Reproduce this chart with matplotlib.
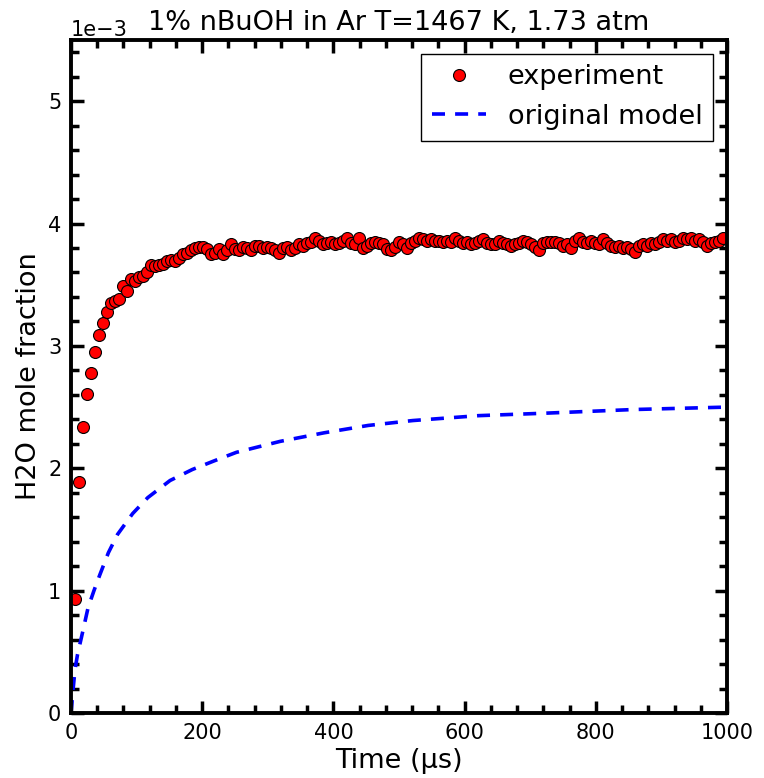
import numpy as np
import matplotlib
matplotlib.use('Agg')
import matplotlib.pyplot as plt

# experiment: H2O mole fraction (x1e-3), sampled every ~6.1 us
exp_dt = 6.1
exp_h2o = [
    0.93, 1.89, 2.34, 2.61, 2.78, 2.95, 3.09, 3.19, 3.28, 3.35,
    3.37, 3.38, 3.49, 3.45, 3.55, 3.53, 3.56, 3.57, 3.60, 3.66,
    3.65, 3.66, 3.67, 3.69, 3.70, 3.69, 3.72, 3.75, 3.76, 3.78,
    3.80, 3.81, 3.81,
    3.79, 3.75, 3.76, 3.79, 3.75, 3.78, 3.83, 3.79, 3.78, 3.81,
    3.80, 3.78, 3.82, 3.82, 3.80, 3.81, 3.80, 3.78, 3.76, 3.80,
    3.81, 3.78, 3.80, 3.83, 3.82, 3.84, 3.85, 3.88, 3.86, 3.83,
    3.84, 3.85, 3.83, 3.84, 3.86, 3.88, 3.84, 3.83, 3.88, 3.80,
    3.82, 3.84, 3.85, 3.84, 3.83, 3.79, 3.78, 3.81, 3.85, 3.83,
    3.80, 3.84, 3.86, 3.88, 3.87, 3.86, 3.87, 3.86, 3.86, 3.85,
    3.86, 3.85, 3.88, 3.86, 3.84, 3.85, 3.83, 3.84, 3.86, 3.87,
    3.84, 3.83, 3.83, 3.86, 3.84, 3.83, 3.82, 3.83, 3.84, 3.86,
    3.85, 3.83, 3.81, 3.78, 3.84, 3.85, 3.85, 3.85, 3.84, 3.82,
    3.83, 3.80, 3.86, 3.88, 3.85, 3.84, 3.86, 3.84, 3.83, 3.87,
    3.84, 3.82, 3.81, 3.82, 3.80, 3.81, 3.79, 3.77, 3.82, 3.83,
    3.82, 3.84, 3.83, 3.85, 3.87, 3.86, 3.87, 3.85, 3.86, 3.88,
    3.87, 3.88, 3.86, 3.87, 3.85, 3.82, 3.84, 3.85, 3.86, 3.88,
]
exp_time = exp_dt * np.arange(1, len(exp_h2o) + 1)

# original model (x1e-3)
model_time = [0, 3, 6, 10, 16, 26, 35, 44, 57, 71, 94, 117, 151, 185,
              218, 252, 319, 386, 453, 521, 621, 722, 857, 1000]
model_h2o = [0.0, 0.18, 0.35, 0.48, 0.62, 0.86, 1.00, 1.13, 1.31, 1.46,
             1.63, 1.76, 1.90, 1.99, 2.06, 2.13, 2.22, 2.29, 2.35, 2.39,
             2.43, 2.45, 2.48, 2.50]

fig = plt.figure(figsize=(7.64, 7.78), dpi=100)
ax = fig.add_axes([71/764, 65/778, 656/764, 673/778])

ax.plot(exp_time, np.array(exp_h2o) * 1e-3, 'o', color='red', mec='black',
        mew=0.8, ms=8.6, label='experiment')
ax.plot(model_time, np.array(model_h2o) * 1e-3, color='blue', lw=2.6,
        linestyle=(0, (3.6, 2.8)), label='original model')

ax.set_xlim(0, 1000)
ax.set_ylim(0, 5.5e-3)
ax.set_xticks([0, 200, 400, 600, 800, 1000])
ax.set_xticks(np.arange(0, 1001, 40), minor=True)
ax.set_yticks(np.arange(0, 5.6e-3, 1e-3))
ax.set_yticks(np.arange(0, 5.51e-3, 0.2e-3), minor=True)
ax.ticklabel_format(axis='y', style='sci', scilimits=(0, 0))
ax.yaxis.get_offset_text().set_fontsize(15)

ax.tick_params(which='both', direction='in', top=True, right=True,
               labelsize=15, width=2.5, pad=7)
ax.tick_params(which='major', length=9)
ax.tick_params(which='minor', length=5.5)
for s in ax.spines.values():
    s.set_linewidth(2.8)

ax.set_xlabel('Time (μs)', fontsize=19.5)
ax.set_ylabel('H2O mole fraction', fontsize=19.5)
ax.set_title('1% nBuOH in Ar T=1467 K, 1.73 atm', fontsize=19.5, pad=7)

leg = ax.legend(loc='upper right', numpoints=1, fontsize=19.5,
                fancybox=False, framealpha=1, edgecolor='black')
leg.get_frame().set_linewidth(1.0)

fig.savefig('out.png', dpi=100)
